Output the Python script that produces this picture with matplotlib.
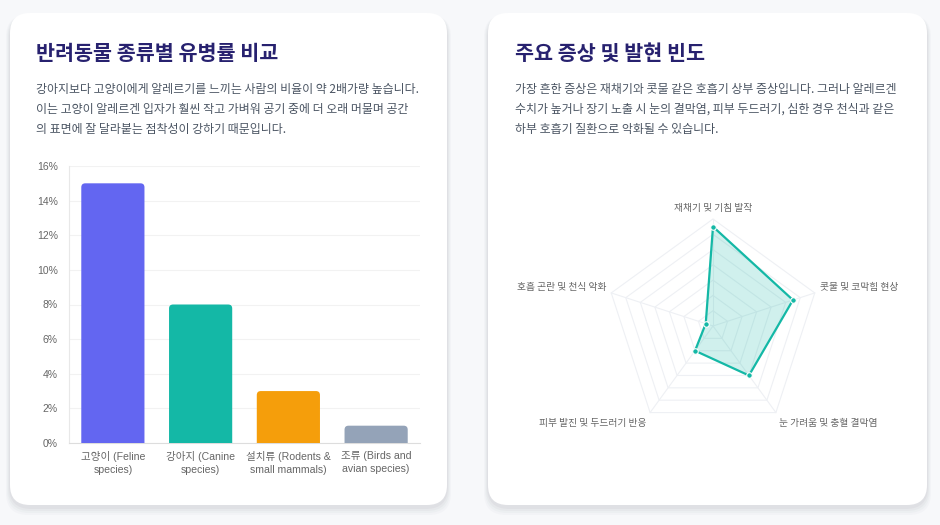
import numpy as np
import matplotlib
matplotlib.use("Agg")
import matplotlib.pyplot as plt
from matplotlib.patches import FancyBboxPatch, Polygon

# ---------------- data ----------------
bar_categories = ["고양이 (Feline\nspecies)", "강아지 (Canine\nspecies)",
                  "설치류 (Rodents &\nsmall mammals)", "조류 (Birds and\navian species)"]
bar_values = [15, 8, 3, 1]
bar_colors = ["#6366F1", "#14B8A6", "#F59E0B", "#94A3B8"]
y_ticks = [0, 2, 4, 6, 8, 10, 12, 14, 16]

radar_labels = ["재채기 및 기침 발작", "콧물 및 코막힘 현상", "눈 가려움 및 충혈 결막염",
                "피부 발진 및 두드러기 반응", "호흡 곤란 및 천식 악화"]
radar_values = [65, 55, 40, 20, 5]
radar_max = 70
radar_step = 10

left_title = "반려동물 종류별 유병률 비교"
left_desc = ["강아지보다 고양이에게 알레르기를 느끼는 사람의 비율이 약 2배가량 높습니다.",
             "이는 고양이 알레르겐 입자가 훨씬 작고 가벼워 공기 중에 더 오래 머물며 공간",
             "의 표면에 잘 달라붙는 점착성이 강하기 때문입니다."]
right_title = "주요 증상 및 발현 빈도"
right_desc = ["가장 흔한 증상은 재채기와 콧물 같은 호흡기 상부 증상입니다. 그러나 알레르겐",
              "수치가 높거나 장기 노출 시 눈의 결막염, 피부 두드러기, 심한 경우 천식과 같은",
              "하부 호흡기 질환으로 악화될 수 있습니다."]

KR = ["Noto Sans CJK KR", "DejaVu Sans"]
SANS = ["Liberation Sans", "Noto Sans CJK KR", "DejaVu Sans"]
plt.rcParams["font.family"] = KR

W, H = 940, 525
fig = plt.figure(figsize=(W / 100, H / 100), dpi=100)
fig.patch.set_facecolor("#F7F8FA")

# background axes in pixel coordinates
bg = fig.add_axes([0, 0, 1, 1], zorder=0)
bg.set_xlim(0, W)
bg.set_ylim(H, 0)
bg.axis("off")

def card(x0, y0, x1, y1):
    # soft shadow
    for i, a in enumerate([0.035, 0.03, 0.025, 0.02]):
        p = i * 2 + 2
        bg.add_patch(FancyBboxPatch((x0 - p / 2, y0 + 2), x1 - x0 + p, y1 - y0 + p,
                                    boxstyle="round,pad=0,rounding_size=22",
                                    fc="#1e293b", ec="none", alpha=a))
    bg.add_patch(FancyBboxPatch((x0, y0), x1 - x0, y1 - y0,
                                boxstyle="round,pad=0,rounding_size=20",
                                fc="white", ec="none"))

card(10, 13, 447, 505)
card(488, 13, 927, 505)

title_color = "#27216F"
desc_color = "#4B5563"
bg.text(36, 53, left_title, fontsize=14.9, fontweight="bold", color=title_color,
        va="center", ha="left")
bg.text(515, 53, right_title, fontsize=14.9, fontweight="bold", color=title_color,
        va="center", ha="left")
for i, line in enumerate(left_desc):
    bg.text(36, 90 + i * 19.5, line, fontsize=8.6, color=desc_color, va="center", ha="left")
for i, line in enumerate(right_desc):
    bg.text(515, 90 + i * 19.5, line, fontsize=8.6, color=desc_color, va="center", ha="left")

# ---------------- bar chart ----------------
axl, axr, axt, axb = 69, 420, 166, 443
ax = fig.add_axes([axl / W, 1 - axb / H, (axr - axl) / W, (axb - axt) / H], zorder=2)
ax.set_facecolor("none")
x = np.arange(len(bar_values))
bars = ax.bar(x, bar_values, width=0.72, color=bar_colors, alpha=0)
ax.set_xlim(-0.5, len(bar_values) - 0.5)
ax.set_ylim(0, 16)
xpp = (len(bar_values)) / (axr - axl)
ypp = 16 / (axb - axt)
for b, c in zip(bars, bar_colors):
    bx, bw, bh = b.get_x(), b.get_width(), b.get_height()
    ax.add_patch(FancyBboxPatch((bx, -1), bw, bh + 1,
                                boxstyle=f"round,pad=0,rounding_size={4 * xpp}",
                                mutation_aspect=ypp / xpp, fc=c, ec="none",
                                clip_on=True, zorder=3))
ax.set_yticks(y_ticks)
ax.set_yticklabels([f"{t}%" for t in y_ticks], fontsize=7.5, color="#666666", family=SANS)
ax.set_xticks(x)
ax.set_xticklabels(bar_categories, fontsize=7.6, color="#666666", family=SANS, linespacing=1.3)
ax.tick_params(axis="y", length=0, pad=8)
ax.tick_params(axis="x", length=0, pad=6)
ax.grid(axis="y", color="#F2F2F2", linewidth=0.8, zorder=0)
ax.set_axisbelow(True)
for s in ["top", "right"]:
    ax.spines[s].set_visible(False)
ax.spines["left"].set_color("#E8E8E8")
ax.spines["bottom"].set_color("#DDDDDD")

# ---------------- radar chart ----------------
cx, cy, R = 713, 326, 107
rx0, rx1, ry0, ry1 = 495, 931, 180, 460
rax = fig.add_axes([rx0 / W, 1 - ry1 / H, (rx1 - rx0) / W, (ry1 - ry0) / H], zorder=2)
rax.set_xlim((rx0 - cx) / R, (rx1 - cx) / R)
rax.set_ylim((cy - ry1) / R, (cy - ry0) / R)
rax.axis("off")

n = len(radar_labels)
ang = np.pi / 2 - np.arange(n) * 2 * np.pi / n
ux, uy = np.cos(ang), np.sin(ang)
grid_c = "#EEF0F4"
levels = np.arange(radar_step, radar_max + 1, radar_step)
for lv in levels:
    r = lv / radar_max
    rax.add_patch(Polygon(np.c_[ux * r, uy * r], closed=True, fill=False,
                          ec=grid_c, lw=0.8, zorder=1))
for i in range(n):
    rax.plot([0, ux[i]], [0, uy[i]], color=grid_c, lw=0.8, zorder=1)

rv = np.array(radar_values) / radar_max
px, py = ux * rv, uy * rv
rax.add_patch(Polygon(np.c_[px, py], closed=True, fc="#14B8A6", alpha=0.2, ec="none", zorder=2))
rax.plot(np.r_[px, px[0]], np.r_[py, py[0]], color="#14B8A6", lw=1.6, zorder=3)
rax.scatter(px, py, s=16, color="#14B8A6", edgecolors="white", linewidths=0.8, zorder=4)

# label offsets in pixels from each outer vertex
off_px = [(0, 11), (5, 6), (3, -10), (-4, -10), (-5, 6)]
for i, lab in enumerate(radar_labels):
    lx = ux[i] + off_px[i][0] / R
    ly = uy[i] + off_px[i][1] / R
    if abs(ux[i]) < 0.1:
        ha = "center"
    elif ux[i] > 0:
        ha = "left"
    else:
        ha = "right"
    rax.text(lx, ly, lab, fontsize=7, color="#666666", ha=ha, va="center")

fig.savefig("out.png", dpi=100, facecolor=fig.get_facecolor())
